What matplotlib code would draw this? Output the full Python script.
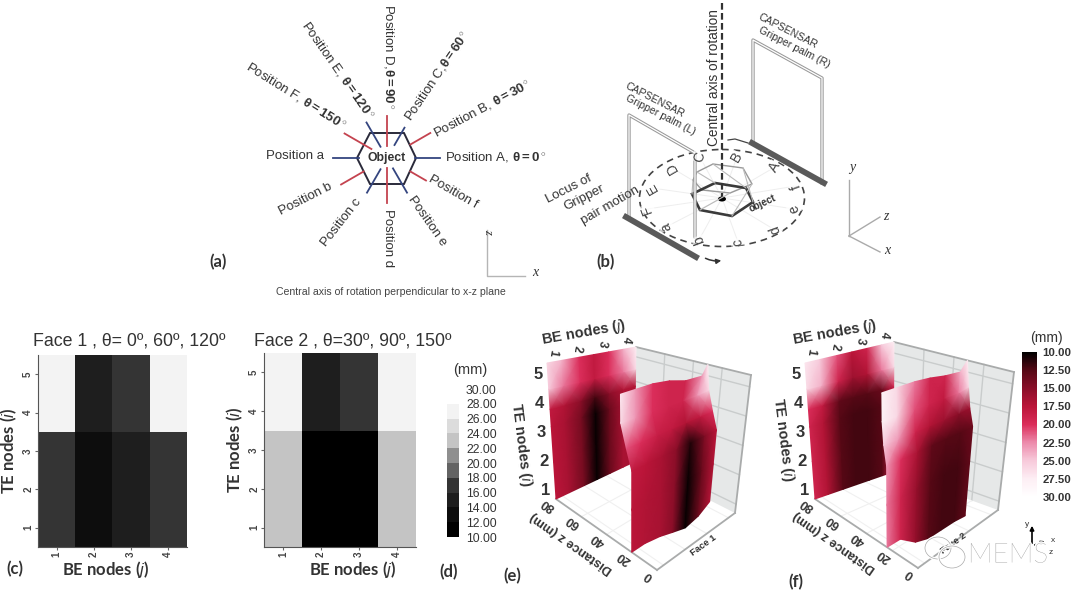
import numpy as np
import matplotlib
matplotlib.use("Agg")
import matplotlib.pyplot as plt
from matplotlib.colors import ListedColormap, BoundaryNorm, LinearSegmentedColormap, Normalize
from matplotlib.cm import ScalarMappable
from matplotlib.patches import Ellipse, Polygon
import matplotlib.patheffects as pe

plt.rcParams['font.family'] = ['Liberation Sans', 'DejaVu Sans']
plt.rcParams['mathtext.fontset'] = 'custom'
plt.rcParams['mathtext.rm'] = 'Liberation Sans'
plt.rcParams['mathtext.bf'] = 'Liberation Sans:bold'
plt.rcParams['mathtext.it'] = 'Liberation Sans:italic'

# ---- data ----
# heat maps (c), (d): rows are i = 1..5, columns j = 1..4
face1_map = [[17, 13, 15, 17], [17, 13, 15, 17], [17, 13, 15, 17], [27, 15, 17, 27], [27, 15, 17, 27]]
face2_map = [[23, 11, 11, 23], [23, 11, 11, 23], [23, 11, 11, 23], [27, 15, 17, 27], [27, 15, 17, 27]]
grey_levels = list(range(10, 31, 2))
grey_colors = ['#000000', '#0d0d0d', '#1e1e1e', '#343434', '#636363', '#8f8f8f',
               '#c4c4c4', '#dcdcdc', '#f3f3f3', '#ffffff']
grey_ticks = ['%.2f' % v for v in grey_levels]

# surfaces (e), (f)
j_nodes = [0.7, 1.3, 2.0, 2.6, 3.2, 3.8, 4.3]
i_nodes = [0.7, 2.0, 3.2, 3.8, 4.5, 5.4]

back_e = [[17.5, 16.5, 14, 10.3, 13.5, 16.5, 16.5],
          [17.5, 16.5, 14, 10.3, 13.5, 16.5, 16.5],
          [17.5, 16.5, 14, 10.3, 13.5, 16.5, 16.5],
          [18, 17, 15, 12, 15, 17, 17],
          [25, 22, 20, 18, 20, 22, 26],
          [26, 24, 20, 18, 20, 24, 28]]
front_e = [[17.5, 17, 16.5, 15, 10.3, 13.5, 17],
           [17.5, 17, 16.5, 15, 10.3, 13.5, 17],
           [18, 17.5, 16.5, 15, 11, 14.5, 17.5],
           [21, 20, 18.5, 18, 17, 18, 20],
           [26, 23, 20, 19, 19, 23, 26],
           [27, 23, 20, 19, 19, 23, 28]]
depth_e = [[20, 20, 20, 20, 20, 20, 20],
           [20, 20, 20, 20, 20, 20, 20],
           [20, 20, 20, 20, 20, 20, 20],
           [24, 24, 24, 24, 24, 24, 24],
           [28, 28, 28, 27, 27, 27, 28],
           [28, 28, 28, 27, 26, 25, 30]]
bottom_i_e = [0.7, 0.7, 0.6, 0.45, 0.3, 0.4, 0.65]
top_i_e = [5.4, 5.4, 5.4, 5.35, 5.2, 5.2, 5.4]

back_f = [[19, 17, 12.5, 12, 12, 12.5, 19],
          [19, 17, 12.5, 12, 12, 12.5, 19],
          [19, 17, 12.5, 12, 12, 12.5, 19],
          [20, 18, 13, 12.5, 12.5, 13.5, 19],
          [26, 24, 19, 16, 17, 22, 26],
          [27, 25, 21, 17.5, 19, 25, 28]]
front_f = [[22, 19, 15.5, 12.5, 12, 12, 13],
           [22, 19, 15.5, 12.5, 12, 12, 13],
           [23, 20, 16.5, 13, 12.5, 12.5, 13.5],
           [25, 23, 19, 17, 16, 15, 16],
           [28, 26, 21, 19, 18, 22, 26],
           [28, 26, 22, 19, 19, 24, 28]]
depth_f = [[24, 24, 24, 24, 24, 24, 24],
           [24, 24, 24, 24, 24, 24, 24],
           [24, 24, 24, 24, 24, 24, 24],
           [26, 26, 26, 26, 26, 26, 27],
           [27, 27, 27, 27, 27, 27, 29],
           [27, 27, 27, 27, 27, 27, 31]]
bottom_i_f = [0.7, 0.7, 0.3, 0.15, 0.15, 0.15, 0.1]
top_i_f = [5.4, 5.4, 5.4, 5.35, 5.25, 5.2, 5.4]

red_scale_vals = [10, 12.5, 15, 17.5, 20, 22.5, 25, 27.5, 30]
red_scale_cols = ['#000000', '#560815', '#8a0e28', '#bb1539', '#db2d5a',
                  '#ec8aab', '#f7c9da', '#fdeef4', '#ffffff']
red_ticks = [10, 12.5, 15, 17.5, 20, 22.5, 25, 27.5, 30]

# box corners of the 3D panels in figure pixels, index [j high][i high][z near]
box_e = [[[(556, 499), (657, 570)], [(547, 363), (660, 411)]],
         [[(634, 462), (735, 513)], [(636, 347), (751, 375)]]]
box_f = [[[(815, 499), (918, 568)], [(805, 363), (921, 408)]],
         [[(893, 472), (998, 510)], [(894, 342), (1014, 372)]]]

# panel (a): angle, inner radius, outer radius
blue_spokes = [(0, 28, 53), (60, 15, 35), (120, 13, 41), (180, 28, 54),
               (240, 13, 40), (300, 12, 40)]
red_spokes = [(30, 27, 50), (90, 12, 42), (150, 18, 49), (210, 27, 53),
              (270, 10, 45), (330, 27, 45)]
position_labels = [
    ("Position A, $\\mathbf{\\theta= 0^\\circ}$", 445, 158, 0),
    ("Position B, $\\mathbf{\\theta= 30^\\circ}$", 435, 134, 28),
    ("Position C,$\\mathbf{\\theta= 60^\\circ}$", 408, 120, 56),
    ("Position D,$\\mathbf{\\theta= 90^\\circ}$", 388, 4, -90),
    ("Position E, $\\mathbf{\\theta=120^\\circ}$", 304, 23, -55),
    ("Position F, $\\mathbf{\\theta= 150^\\circ}$", 247, 66, -32),
    ("Position a", 266, 156, 0),
    ("Position b", 280, 212, 27),
    ("Position c", 324, 245, 52),
    ("Position d", 388, 209, -90),
    ("Position e", 410, 197, -55),
    ("Position f", 430, 178, -30),
]
hexagon_a = [(357, 158), (370, 133), (404, 133), (416, 158), (404, 184), (370, 184)]

# panel (b), in pixels of the figure
hex_low = [(692, 194), (715, 183), (746, 188), (753, 202), (732, 216), (700, 210)]
hex_high = [(693, 180), (697, 172), (713, 164), (743, 168), (752, 184), (730, 193), (702, 190)]
locus_letters = [('A', 775, 167, 60), ('B', 737, 157, 60), ('C', 700, 157, 75), ('D', 672, 168, 120),
                 ('E', 652, 188, 120), ('F', 647, 209, 110), ('a', 666, 227, 110), ('b', 699, 240, 110),
                 ('c', 738, 242, 100), ('d', 775, 230, 110), ('e', 794, 209, 110), ('f', 796, 186, 110)]
# palm frames: left x, top y left, bottom y left, right x, top y right, bottom y right
palms = [(629, 115, 217, 695, 153, 237), (753, 40, 143, 822, 78, 183)]
palm_bases = [(626, 217, 696, 257), (752, 143, 824, 183)]

# ---- figure ----
fig = plt.figure(figsize=(10.8, 5.99), dpi=100)
W, H = 1080.0, 599.0
bg = fig.add_axes([0, 0, 1, 1])
bg.set_xlim(0, W)
bg.set_ylim(H, 0)
bg.axis('off')
dark = '#333333'


def rect(left, top, right, bottom):
    return [left / W, 1 - bottom / H, (right - left) / W, (bottom - top) / H]


# ---- (a) ----
cx, cy = 387, 158
for spokes, col in [(blue_spokes, '#34457f'), (red_spokes, '#c4434f')]:
    for ang, r0, r1 in spokes:
        a = np.radians(ang)
        bg.plot([cx + r0 * np.cos(a), cx + r1 * np.cos(a)], [cy - r0 * np.sin(a), cy - r1 * np.sin(a)],
                color=col, lw=1.3)
bg.add_patch(Polygon(hexagon_a, closed=True, fill=False, ec='#2a2a3a', lw=1.4))
bg.text(cx, cy, "Object", ha='center', va='center', fontsize=8.8, fontweight='bold', color=dark,
        bbox=dict(fc='white', ec='none', pad=0.8))
for txt, x, y, rot in position_labels:
    bg.text(x, y, txt, ha='left', va='center', rotation=rot, rotation_mode='anchor',
            fontsize=9.5, color=dark)
bg.plot([487, 487, 525], [230, 276, 276], color='#b5b5b5', lw=1)
bg.text(488, 231, "z", style='italic', family='Liberation Serif', fontsize=9, color=dark, ha='center', va='center', rotation=-90)
bg.text(535, 273, "x", style='italic', family='Liberation Serif', fontsize=10, color=dark, ha='center', va='center')
bg.text(391, 292, "Central axis of rotation perpendicular to x-z plane", ha='center', va='center',
        fontsize=7.6, color='#444444')

# ---- (b) ----
bg.add_patch(Ellipse((722, 198), 165, 97, angle=0, fill=False, ec='#444444', lw=1.2, ls=(0, (4, 3))))
bg.plot([722, 722], [3, 198], color='#333333', lw=1.6, ls=(0, (3, 1.5)))
bg.text(714, 78, "Central axis of rotation", rotation=90, ha='center', va='center', fontsize=9.8, color=dark)
for p, q in zip(hex_low, hex_high):
    bg.plot([p[0], q[0]], [p[1], q[1]], color='#bbbbbb', lw=0.8)
bg.add_patch(Polygon(hex_high, closed=True, fill=False, ec='#999999', lw=1.0))
bg.add_patch(Polygon(hex_low, closed=True, fill=False, ec='#3a3a3a', lw=1.9))
bg.add_patch(Ellipse((722, 199), 8, 5, fc='black', ec='none'))
for letter, x, y, rot in locus_letters:
    bg.text(x, y, letter, ha='center', va='center', rotation=rot, fontsize=10, color='#444444',
            bbox=dict(fc='white', ec='none', pad=0.2, alpha=0.7))
    bg.plot([x, 722], [y, 198], color='#eeeeee', lw=0.7, zorder=0)
bg.text(762, 203, "object", rotation=25, ha='center', va='center', fontsize=7, fontweight='bold', color=dark)
for x0, y0, y0b, x1, y1, y1b in palms:
    bg.plot([x0, x0, x1, x1], [y0b, y0, y1, y1b], color='#999999', lw=2.4)
    bg.plot([x0, x0, x1, x1], [y0b, y0, y1, y1b], color='white', lw=0.9)
for x0, y0, x1, y1 in palm_bases:
    bg.plot([x0, x1], [y0, y1], color='#5a5a5a', lw=4.2)
bg.text(626, 85, "CAPSENSAR", rotation=-27, rotation_mode='anchor', ha='left', va='center', fontsize=7.6, color=dark)
bg.text(626, 98, "Gripper palm (L)", rotation=-27, rotation_mode='anchor', ha='left', va='center', fontsize=7.6, color=dark)
bg.text(759, 16, "CAPSENSAR", rotation=-27, rotation_mode='anchor', ha='left', va='center', fontsize=7.6, color=dark)
bg.text(759, 30, "Gripper palm (R)", rotation=-27, rotation_mode='anchor', ha='left', va='center', fontsize=7.6, color=dark)
bg.text(547, 200, "Locus of", rotation=27, rotation_mode='anchor', ha='left', va='center', fontsize=9.5, color=dark)
bg.text(565, 208, "Gripper", rotation=27, rotation_mode='anchor', ha='left', va='center', fontsize=9.5, color=dark)
bg.text(582, 222, "pair motion", rotation=30, rotation_mode='anchor', ha='left', va='center', fontsize=9.5, color=dark)
bg.annotate("", xy=(724, 260), xytext=(703, 257),
            arrowprops=dict(arrowstyle='-|>', color='#333333', lw=1.1, connectionstyle='arc3,rad=0.2', mutation_scale=7))
bg.plot([728, 735, 748], [140, 139, 143], color='#444444', lw=0.9)
bg.plot([849, 849], [236, 180], color='#aaaaaa', lw=1)
bg.plot([849, 880], [236, 217], color='#aaaaaa', lw=1)
bg.plot([849, 880], [236, 252], color='#aaaaaa', lw=1)
bg.text(852, 168, "y", style='italic', family='Liberation Serif', fontsize=10, color=dark, ha='center', va='center')
bg.text(886, 216, "z", style='italic', family='Liberation Serif', fontsize=10, color=dark, ha='center', va='center')
bg.text(887, 251, "x", style='italic', family='Liberation Serif', fontsize=10, color=dark, ha='center', va='center')

# ---- (c), (d) heat maps ----
grey_cmap = ListedColormap(grey_colors)
grey_norm = BoundaryNorm(grey_levels, grey_cmap.N)
for values, box, title, title_x, xlab_x in [(face1_map, rect(38, 355, 187, 547), "Face 1 , \u03b8= 0\u00ba, 60\u00ba, 120\u00ba", 129, 106),
                                            (face2_map, rect(264, 353, 416, 547), "Face 2 , \u03b8=30\u00ba, 90\u00ba, 150\u00ba", 353, 353)]:
    ax = fig.add_axes(box)
    ax.imshow(values, origin='lower', cmap=grey_cmap, norm=grey_norm, aspect='auto',
              extent=(0.5, 4.5, 0.5, 5.5), interpolation='nearest')
    ax.set_xticks([1, 2, 3, 4])
    ax.set_yticks([1, 2, 3, 4, 5])
    ax.tick_params(labelsize=7, length=2, color='#666666', labelcolor='#444444', pad=1.5)
    for t in ax.get_xticklabels():
        t.set_rotation(90)
        t.set_fontweight('bold')
    for t in ax.get_yticklabels():
        t.set_rotation(90)
        t.set_va('center')
        t.set_fontweight('bold')
    for s in ['top', 'right']:
        ax.spines[s].set_visible(False)
    for s in ['left', 'bottom']:
        ax.spines[s].set_color('#555555')
    ax.set_ylabel("TE nodes ($\\mathit{i}$)", family=['Lato', 'DejaVu Sans'], fontweight='bold', fontsize=12, color=dark, labelpad=3)
    bg.text(xlab_x, 569, "BE nodes ($\\mathit{j}$)", family=['Lato', 'DejaVu Sans'], fontweight='bold', fontsize=12,
            color=dark, ha='center', va='center')
    bg.text(title_x, 341, title, ha='center', va='center', fontsize=12.8, color=dark)

cax = fig.add_axes(rect(447, 389, 459, 537))
cb = fig.colorbar(ScalarMappable(norm=grey_norm, cmap=grey_cmap), cax=cax, ticks=grey_levels, spacing='proportional')
cb.ax.set_yticklabels(grey_ticks)
cb.ax.tick_params(length=0, labelsize=8.8, labelcolor=dark, pad=5)
cb.outline.set_visible(False)
bg.text(470, 370, "(mm)", ha='center', va='center', fontsize=10.5, color=dark)

# ---- (e), (f) surfaces ----
red_cmap = LinearSegmentedColormap.from_list(
    'red_scale', [((v - 10) / 20.0, c) for v, c in zip(red_scale_vals, red_scale_cols)])
red_norm = Normalize(10, 30)


def project(box, j, i, z):
    # trilinear map from data (j, i, z) to figure pixels
    b = np.asarray(box, dtype=float)
    u = (np.asarray(j, dtype=float) - j_nodes[0]) / (j_nodes[-1] - j_nodes[0])
    v = (np.asarray(i, dtype=float) - i_nodes[0]) / (i_nodes[-1] - i_nodes[0])
    w = (80 - np.asarray(z, dtype=float)) / 80.0
    out = []
    for k in range(2):
        out.append((1 - u) * (1 - v) * (1 - w) * b[0, 0, 0, k] + (1 - u) * (1 - v) * w * b[0, 0, 1, k]
                   + (1 - u) * v * (1 - w) * b[0, 1, 0, k] + (1 - u) * v * w * b[0, 1, 1, k]
                   + u * (1 - v) * (1 - w) * b[1, 0, 0, k] + u * (1 - v) * w * b[1, 0, 1, k]
                   + u * v * (1 - w) * b[1, 1, 0, k] + u * v * w * b[1, 1, 1, k])
    return out[0], out[1]


def draw_surface(box, back, front, depth, bottom_i, top_i, face, be_xy, te_xy, dist_xy, face_xy):
    jlo, jhi = j_nodes[0], j_nodes[-1]
    ilo, ihi = i_nodes[0], i_nodes[-1]
    # panes stay under the walls
    corners = [project(box, jhi, ilo, 80), project(box, jhi, ilo, 0), project(box, jhi, ihi, 0), project(box, jhi, ihi, 80)]
    bg.add_patch(Polygon(corners, closed=True, fc='#e6e8e8', ec='none', zorder=0.2))
    for z in [60, 40, 20]:
        x, y = project(box, jhi, [ilo, ihi], [z, z])
        bg.plot(x, y, color='#c9cccc', lw=1, zorder=0.3)
        x, y = project(box, [jlo, jhi], ilo, [z, z])
        bg.plot(x, y, color='#f0f0f0', lw=0.8, zorder=0.3)
    for i in [1, 2, 3, 4, 5]:
        x, y = project(box, jhi, [i, i], [80, 0])
        bg.plot(x, y, color='#c9cccc', lw=1, zorder=0.3)
    for j in [1, 2, 3, 4]:
        x, y = project(box, [j, j], ilo, [80, 0])
        bg.plot(x, y, color='#f0f0f0', lw=0.8, zorder=0.3)
    for a, b in [((jhi, ihi, 80), (jhi, ihi, 0)), ((jhi, ihi, 0), (jhi, ilo, 0)), ((jhi, ilo, 0), (jlo, ilo, 0)),
                 ((jlo, ilo, 0), (jlo, ilo, 80))]:
        pa, pb = project(box, *a), project(box, *b)
        bg.plot([pa[0], pb[0]], [pa[1], pb[1]], color='#a9abab', lw=1.3, zorder=0.4)
    # back wall at z = 80
    jj, ii = np.meshgrid(j_nodes, i_nodes)
    x, y = project(box, jj, ii, np.full(jj.shape, 80.0))
    bg.pcolormesh(x, y, np.array(back), shading='gouraud', cmap=red_cmap, norm=red_norm, zorder=1)
    # front wall, its position follows depth
    ii2 = ii.copy()
    ii2[0] = bottom_i
    ii2[-1] = top_i
    x, y = project(box, jj, ii2, np.array(depth, dtype=float))
    bg.pcolormesh(x, y, np.array(front), shading='gouraud', cmap=red_cmap, norm=red_norm, zorder=1.1)
    # tick labels
    for j in [1, 2, 3, 4]:
        x, y = project(box, j, ihi, 80)
        bg.text(x - 2, y - 9, str(j), rotation=-100, ha='center', va='center', fontsize=8.5, fontweight='bold', color=dark)
    for i in [1, 2, 3, 4, 5]:
        x, y = project(box, jlo, i, 80)
        bg.text(x - 10, y, str(i), ha='center', va='center', fontsize=12, fontweight='bold', color=dark)
    for z in [80, 60, 40, 20, 0]:
        x, y = project(box, jlo, ilo, z)
        bg.text(x - 8, y + 5, str(z), rotation=145, ha='center', va='center', fontsize=9, fontweight='bold', color=dark)
    bg.text(be_xy[0], be_xy[1], "BE nodes ($\\mathbf{\\mathit{j}}$)", rotation=10, ha='center', va='center', fontsize=10.5, fontweight='bold', color=dark)
    bg.text(te_xy[0], te_xy[1], "TE nodes ($\\mathbf{\\mathit{i}}$)", rotation=-83, ha='center', va='center', fontsize=10.5, fontweight='bold', color=dark)
    bg.text(dist_xy[0], dist_xy[1], "Distance z (mm)", rotation=145, ha='center', va='center', fontsize=9.2, fontweight='bold', color=dark)
    bg.text(face_xy[0], face_xy[1], face, rotation=36, ha='center', va='center', fontsize=6.8, fontweight='bold', color=dark)


draw_surface(box_e, back_e, front_e, depth_e, bottom_i_e, top_i_e, "Face 1", (584, 333), (521, 445), (572, 543), (703, 545))
draw_surface(box_f, back_f, front_f, depth_f, bottom_i_f, top_i_f, "Face 2", (835, 333), (783, 440), (835, 542), (953, 543))

cax2 = fig.add_axes(rect(1022, 352, 1037, 497))
cb2 = fig.colorbar(ScalarMappable(norm=red_norm, cmap=red_cmap), cax=cax2, ticks=red_ticks)
cb2.ax.invert_yaxis()
cb2.ax.set_yticklabels(['%.2f' % v for v in red_ticks])
cb2.ax.tick_params(length=0, labelsize=8.2, labelcolor=dark, pad=4)
for t in cb2.ax.get_yticklabels():
    t.set_fontweight('bold')
cb2.outline.set_visible(False)
bg.text(1046, 338, "(mm)", ha='center', va='center', fontsize=10, color=dark)

# small axes sign at lower right
bg.annotate("", xy=(1032, 523), xytext=(1032, 546), arrowprops=dict(arrowstyle='-|>', color='black', lw=1.2, mutation_scale=6))
bg.annotate("", xy=(1047, 540), xytext=(1032, 546), arrowprops=dict(arrowstyle='-|>', color='black', lw=1.0, mutation_scale=5))
bg.text(1027, 525, "y", fontsize=6, color=dark, ha='center', va='center')
bg.text(1053, 540, "x", fontsize=6, color=dark, ha='center', va='center')
bg.text(1051, 552, "z", fontsize=6, color=dark, ha='center', va='center')

# watermark
for ex, ey in [(938, 548), (952, 557)]:
    bg.add_patch(Ellipse((ex, ey), 26, 22, fc='none', ec='white', lw=2.2, zorder=6))
    bg.add_patch(Ellipse((ex, ey), 26, 22, fc='none', ec='#aaaaaa', lw=0.5, zorder=6))
bg.text(1008, 555, "MEMS", ha='center', va='center', fontsize=20, fontweight='light', color='#777777', zorder=7,
        family=['Lato', 'DejaVu Sans'],
        path_effects=[pe.withStroke(linewidth=2, foreground='white')])

# panel tags
for tag, x, y in [("(a)", 218, 262), ("(b)", 606, 262), ("(c)", 15, 569), ("(d)", 449, 572), ("(e)", 512, 576), ("(f)", 796, 582)]:
    bg.text(x, y, tag, ha='center', va='center', fontsize=12, fontweight='bold', color=dark,
            family=['Lato', 'DejaVu Sans'])

fig.savefig("out.png", dpi=100)
